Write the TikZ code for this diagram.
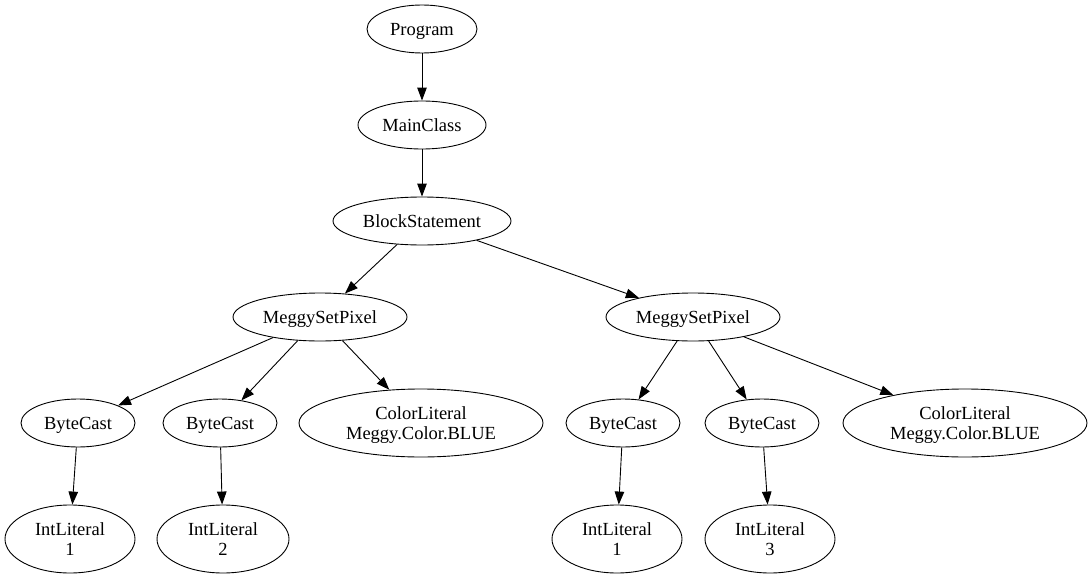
\documentclass[tikz,border=0pt]{standalone}
\usepackage{fontspec}
\setmainfont{Liberation Serif}
\usetikzlibrary{shapes.geometric,arrows.meta}
\tikzset{
  tnode/.style={draw, ellipse, line width=0.9pt, inner sep=0pt, align=center,
    text depth=0pt, font=\fontsize{18.5}{19.5}\selectfont},
  one/.style={tnode, minimum height=48pt},
  two/.style={tnode, minimum height=68pt},
  arr/.style={draw, line width=0.9pt, -{Triangle[length=13pt,width=9.5pt]}}
}
\begin{document}
\begin{tikzpicture}[x=1pt,y=-1pt]
\useasboundingbox (0,0) rectangle (1092,578);
\node[one, minimum width=110pt] (prog) at (422,29) {Program};
\node[one, minimum width=128pt] (main) at (422,125) {MainClass};
\node[one, minimum width=178pt] (block) at (422,221) {BlockStatement};
\node[one, minimum width=174pt] (msp1) at (320,317) {MeggySetPixel};
\node[one, minimum width=174pt] (msp2) at (693,317) {MeggySetPixel};
\node[one, minimum width=114pt] (bc1) at (78,423) {ByteCast};
\node[one, minimum width=114pt] (bc2) at (220,423) {ByteCast};
\node[two, minimum width=244pt] (cl1) at (421,423) {ColorLiteral\\Meggy.Color.BLUE};
\node[one, minimum width=114pt] (bc3) at (623,423) {ByteCast};
\node[one, minimum width=114pt] (bc4) at (762,423) {ByteCast};
\node[two, minimum width=244pt] (cl2) at (965,423) {ColorLiteral\\Meggy.Color.BLUE};
\node[two, minimum width=130pt] (il1) at (70,539) {IntLiteral\\1};
\node[two, minimum width=132pt] (il2) at (223,539) {IntLiteral\\2};
\node[two, minimum width=130pt] (il3) at (617,539) {IntLiteral\\1};
\node[two, minimum width=130pt] (il4) at (770,539) {IntLiteral\\3};
\draw[arr] (prog) -- (main);
\draw[arr] (main) -- (block);
\draw[arr] (block) -- (msp1);
\draw[arr] (block) -- (msp2);
\draw[arr] (msp1) -- (bc1);
\draw[arr] (msp1) -- (bc2);
\draw[arr] (msp1) -- (cl1);
\draw[arr] (msp2) -- (bc3);
\draw[arr] (msp2) -- (bc4);
\draw[arr] (msp2) -- (cl2);
\draw[arr] (bc1) -- (il1);
\draw[arr] (bc2) -- (il2);
\draw[arr] (bc3) -- (il3);
\draw[arr] (bc4) -- (il4);
\end{tikzpicture}
\end{document}
